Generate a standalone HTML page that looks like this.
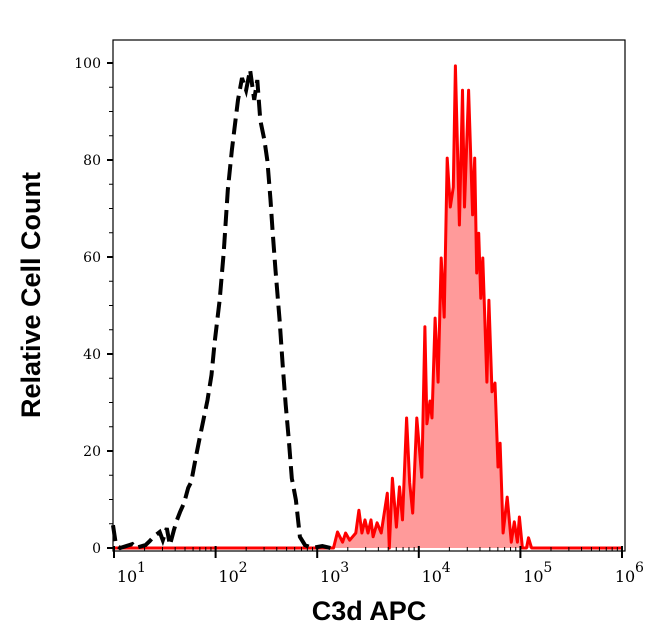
<!DOCTYPE html>
<html><head><meta charset="utf-8"><style>
html,body{margin:0;padding:0;background:#fff;}
svg{display:block;}
</style></head><body>
<svg id="chart" width="646" height="641" viewBox="0 0 646 641" xmlns="http://www.w3.org/2000/svg">
<rect x="0" y="0" width="646" height="641" fill="#fff"/>
<g id="plot"></g>
<rect x="113" y="40" width="512" height="511" fill="none" stroke="#000" stroke-width="1.2"/>
<g id="axes"></g>
<text x="40" y="295" transform="rotate(-90 40 295)" text-anchor="middle" font-family="'Liberation Sans',sans-serif" font-weight="bold" font-size="27">Relative Cell Count</text>
<text x="369" y="620" text-anchor="middle" font-family="'Liberation Sans',sans-serif" font-weight="bold" font-size="27">C3d APC</text>
</svg>
<script>
// log10 positions and relative counts
const isoLog = [0.99,1.02,1.06,1.18,1.21,1.31,1.35,1.39,1.45,1.48,1.52,1.55,1.59,1.62,1.65,1.69,1.73,1.76,1.81,1.84,1.88,1.92,1.96,1.99,2.04,2.08,2.12,2.16,2.19,2.22,2.26,2.30,2.34,2.38,2.41,2.44,2.48,2.51,2.54,2.56,2.59,2.63,2.66,2.69,2.72,2.75,2.79,2.83,2.88,2.95,3.05,3.13];
const isoCount = [4.7,0.6,0,0.8,0,0.6,1.4,2.3,3.3,1.6,4.1,0.6,3.7,5.8,7.4,9.3,12.4,13.6,19.2,22.3,26.4,30.5,35.7,42.3,51.2,60.9,73.8,82.1,87.2,92.4,96.9,94.4,98.6,92.4,96.5,88.2,84.1,79.8,71.8,65.6,57.3,47.0,37.7,29.5,22.3,14.4,9.9,2.3,0.6,0,0.4,0];
const c3dLog = [1.0,3.16,3.20,3.25,3.28,3.32,3.38,3.41,3.44,3.47,3.50,3.53,3.55,3.59,3.63,3.69,3.71,3.74,3.78,3.81,3.84,3.88,3.91,3.94,3.98,4.03,4.06,4.08,4.11,4.13,4.16,4.19,4.22,4.25,4.28,4.31,4.34,4.36,4.40,4.43,4.45,4.49,4.53,4.55,4.57,4.59,4.61,4.63,4.67,4.69,4.72,4.75,4.78,4.80,4.83,4.87,4.91,4.94,4.97,4.99,5.02,5.06,5.08,5.11,6.0];
const c3dCount = [0,0,3.3,1.2,3.1,1.6,3.1,7.8,3.1,5.8,3.1,5.8,2.3,5.2,3.1,11.3,0,14.4,4.3,12.6,5.8,26.8,13.4,7.2,26.8,14.6,45.6,25.6,30.3,26.8,47.4,34.2,59.8,47.6,80.4,70.3,74.4,99.4,66.6,94.4,70.3,94.4,68.7,80.4,56.7,64.9,51.5,59.8,34.2,51.1,32.2,34.0,16.7,21.6,3.1,10.5,1.2,5.4,1.2,6.4,0,0,2.1,0,0];
const yTicks = [0,20,40,60,80,100];
const xDecades = [1,2,3,4,5,6];

const NS='http://www.w3.org/2000/svg';
const X = l => 114 + (l-1)*101.6;
const Y = v => 548 - v*4.85;
function mk(tag, attrs, parent){const e=document.createElementNS(NS,tag);for(const k in attrs)e.setAttribute(k,attrs[k]);parent.appendChild(e);return e;}
const plot=document.getElementById('plot'), axes=document.getElementById('axes');

let d='M'+X(c3dLog[0])+','+Y(0);
c3dLog.forEach((l,i)=>{d+=' L'+X(l).toFixed(1)+','+Y(c3dCount[i]).toFixed(1);});
d+=' L'+X(c3dLog[c3dLog.length-1])+','+Y(0)+' Z';
const fill=mk('path',{d:d,fill:'#ff9a9a',stroke:'none'},plot);


let ld='';
c3dLog.forEach((l,i)=>{ld+=(i?' L':'M')+X(l).toFixed(1)+','+Y(c3dCount[i]).toFixed(1);});
const line=mk('path',{d:ld,fill:'none',stroke:'#ff0000','stroke-width':3,'stroke-linejoin':'round'},plot);



let bd='';
isoLog.forEach((l,i)=>{bd+=(i?' L':'M')+X(l).toFixed(1)+','+Y(isoCount[i]).toFixed(1);});
const iso=mk('path',{d:bd,fill:'none',stroke:'#000','stroke-width':4,'stroke-dasharray':'16 7'},plot);



for(let v=0;v<=100;v+=5){
  const major=v%20===0;
  const t=mk('line',{x1:major?107:109,x2:113,y1:Y(v),y2:Y(v),stroke:'#000','stroke-width':major?2:1},axes);
  
  
}
yTicks.forEach(v=>{
  const t=mk('text',{x:101,y:Y(v)+5,'text-anchor':'end','font-family':"'DejaVu Serif','Liberation Serif',serif",'font-size':14},axes);
  t.textContent=v;
  
  
});
xDecades.forEach(dec=>{
  const t=mk('line',{x1:X(dec),x2:X(dec),y1:546,y2:558,stroke:'#000','stroke-width':2},axes);
  
  
  if(dec<6){for(let m=2;m<=9;m++){
    const mx=X(dec+Math.log10(m));
    const mt=mk('line',{x1:mx,x2:mx,y1:547,y2:551,stroke:'#000','stroke-width':1},axes);
    
    
  }}
  const off = dec===6 ? -10 : 0;
  const lab=mk('text',{x:X(dec)+13+off,y:582,'text-anchor':'middle','font-family':"'DejaVu Serif','Liberation Serif',serif",'font-size':16},axes);
  lab.textContent='10';
  
  
  const sup=mk('text',{x:X(dec)+23+off,y:572,'font-family':"'DejaVu Serif','Liberation Serif',serif",'font-size':14},axes);
  sup.textContent=dec;
  
  
});
</script>
</body></html>
